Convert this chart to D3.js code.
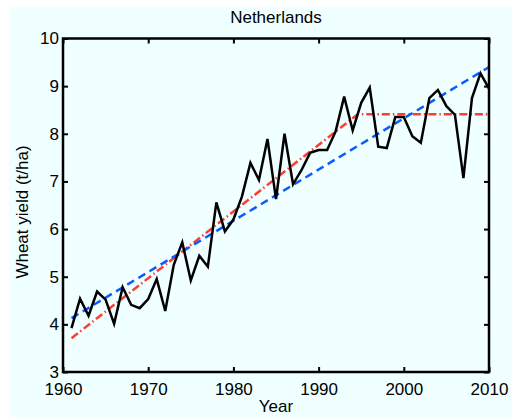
<!DOCTYPE html>
<html><head><meta charset="utf-8">
<script src="https://cdn.jsdelivr.net/npm/d3@7/dist/d3.min.js"></script>
<style>body{margin:0;background:#fff}svg{display:block}</style>
</head><body>
<svg id="c" width="512" height="417"></svg>
<script>
const years = d3.range(1961, 2011);
const yieldVals = [3.92,4.54,4.18,4.69,4.52,4.01,4.78,4.41,4.34,4.53,
  4.95,4.28,5.25,5.72,4.92,5.44,5.21,6.56,5.95,6.20,
  6.68,7.39,7.03,7.89,6.63,8.00,6.94,7.24,7.60,7.66,
  7.66,8.05,8.78,8.07,8.65,8.97,7.73,7.70,8.35,8.35,
  7.95,7.81,8.75,8.92,8.58,8.40,7.07,8.75,9.27,8.95];
const linYears = [1961, 2010];
const linVals = [4.13, 9.40];
const plateauYears = [1961, 1994.6, 2010];
const plateauVals = [3.71, 8.41, 8.41];
const xTicks = [1960, 1970, 1980, 1990, 2000, 2010];
const yTicks = [3, 4, 5, 6, 7, 8, 9, 10];
const title = "Netherlands", xLabel = "Year", yLabel = "Wheat yield (t/ha)";

const svg = d3.select("#c");
const L = 63, R = 489, T = 38.5, B = 372;
const x = d3.scaleLinear().domain([1960, 2010]).range([L, R]);
const y = d3.scaleLinear().domain([3, 10]).range([B, T]);
const font = "'Liberation Sans', Arial, Helvetica, sans-serif";

svg.append("rect").attr("x", 9).attr("y", 7).attr("width", 503).attr("height", 410).attr("fill", "#f0ffff");

function styleAxis(g) {
  g.select(".domain").remove();
  g.selectAll(".tick line").attr("stroke", "#000").attr("stroke-width", 2);
  g.selectAll("text").attr("fill", "#000").style("font-family", font).style("font-size", "17px");
}
svg.append("g").attr("transform", `translate(0,${B})`)
  .call(d3.axisBottom(x).tickValues(xTicks).tickSize(-5).tickPadding(11).tickFormat(d3.format("d"))).call(styleAxis);
svg.append("g").attr("transform", `translate(0,${T})`)
  .call(d3.axisTop(x).tickValues(xTicks).tickSize(-5).tickFormat("")).call(styleAxis);
svg.append("g").attr("transform", `translate(${L},0)`)
  .call(d3.axisLeft(y).tickValues(yTicks).tickSize(-5).tickPadding(4).tickFormat(d3.format("d"))).call(styleAxis);
svg.append("g").attr("transform", `translate(${R},0)`)
  .call(d3.axisRight(y).tickValues(yTicks).tickSize(-5).tickFormat("")).call(styleAxis);

const line = d3.line().x(d => x(d[0])).y(d => y(d[1]));
svg.append("path").datum(d3.zip(plateauYears, plateauVals)).attr("d", line)
  .attr("fill", "none").attr("stroke", "#ff3d2e").attr("stroke-width", 2.5).attr("stroke-dasharray", "8,3,1.5,3");
svg.append("path").datum(d3.zip(linYears, linVals)).attr("d", line)
  .attr("fill", "none").attr("stroke", "#0b5cff").attr("stroke-width", 2.5).attr("stroke-dasharray", "8,5");
svg.append("path").datum(d3.zip(years, yieldVals)).attr("d", line)
  .attr("fill", "none").attr("stroke", "#000").attr("stroke-width", 2.5).attr("stroke-linejoin", "miter");

svg.append("rect").attr("x", L).attr("y", T).attr("width", R - L).attr("height", B - T)
  .attr("fill", "none").attr("stroke", "#000").attr("stroke-width", 2.5);

svg.append("text").attr("x", (L + R) / 2).attr("y", 23).attr("text-anchor", "middle")
  .style("font-family", font).style("font-size", "17px").text(title);
svg.append("text").attr("x", (L + R) / 2).attr("y", 412).attr("text-anchor", "middle")
  .style("font-family", font).style("font-size", "17px").text(xLabel);
svg.append("text").attr("transform", `translate(28,212) rotate(-90)`).attr("text-anchor", "middle")
  .style("font-family", font).style("font-size", "17px").text(yLabel);
</script>
</body></html>
